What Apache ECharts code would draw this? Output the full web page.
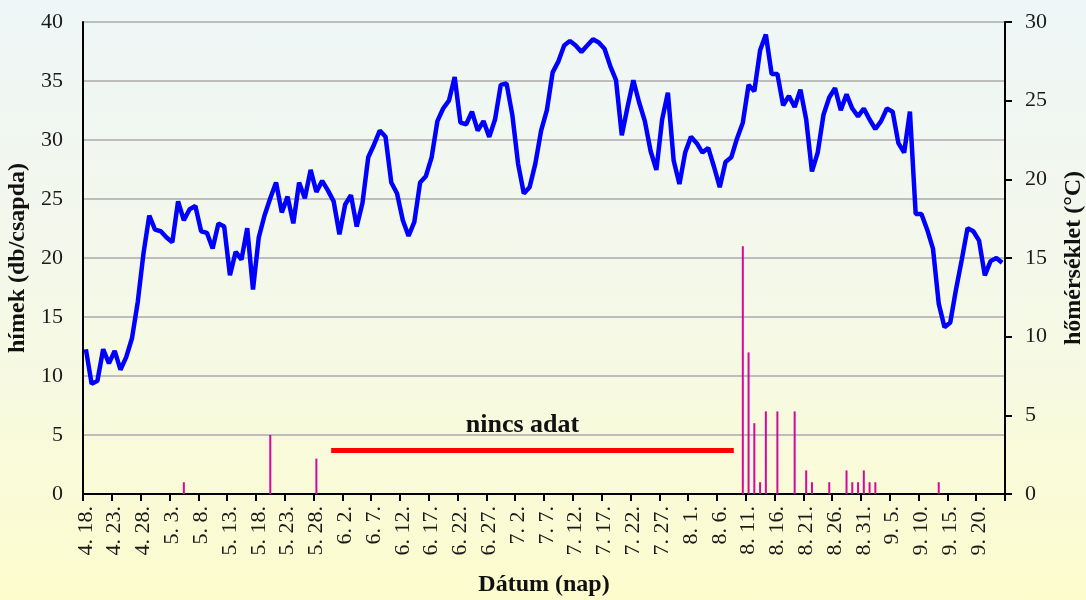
<!DOCTYPE html>
<html>
<head>
<meta charset="utf-8">
<script src="https://cdn.jsdelivr.net/npm/echarts@6/dist/echarts.min.js"></script>
<style>
html,body{margin:0;padding:0;overflow:hidden;}
#chart{width:1086px;height:600px;background:linear-gradient(to bottom,#eef6f7 0%,#f4f8ea 45%,#fcfccd 100%);}
</style>
</head>
<body>
<div id="chart"></div>
<script>
// Category range: daily, 4.18 – 9.24
const startMonth = 4, startDay = 18, dayCount = 160;
const monthLengths = {4: 30, 5: 31, 6: 30, 7: 31, 8: 31, 9: 30};

// Daily mean temperature (°C), right axis
const temperature = [
  9.2, 7.0, 7.2, 9.2, 8.3, 9.1, 7.9, 8.7, 9.9, 12.2,
  15.3, 17.7, 16.8, 16.7, 16.3, 16.0, 18.6, 17.4, 18.1, 18.3,
  16.7, 16.6, 15.6, 17.2, 17.0, 13.9, 15.4, 14.9, 16.9, 13.0,
  16.3, 17.7, 18.8, 19.8, 17.9, 18.9, 17.2, 19.8, 18.8, 20.6,
  19.2, 19.9, 19.3, 18.6, 16.5, 18.4, 19.0, 17.0, 18.5, 21.4,
  22.2, 23.1, 22.7, 19.8, 19.1, 17.4, 16.4, 17.3, 19.8, 20.2,
  21.4, 23.7, 24.5, 25.0, 26.5, 23.6, 23.5, 24.3, 23.1, 23.7,
  22.7, 23.8, 26.0, 26.1, 24.1, 21.0, 19.1, 19.5, 21.0, 23.1,
  24.4, 26.8, 27.5, 28.5, 28.8, 28.5, 28.1, 28.5, 28.9, 28.7,
  28.3, 27.2, 26.3, 22.8, 24.6, 26.3, 24.9, 23.7, 21.8, 20.6,
  23.8, 25.5, 21.2, 19.7, 21.7, 22.7, 22.3, 21.7, 22.0, 20.8,
  19.5, 21.1, 21.4, 22.6, 23.6, 26.0, 25.6, 28.2, 29.2, 26.7,
  26.7, 24.7, 25.3, 24.6, 25.7, 23.8, 20.5, 21.7, 24.1, 25.2,
  25.8, 24.4, 25.4, 24.5, 24.0, 24.5, 23.8, 23.2, 23.7, 24.5,
  24.3, 22.3, 21.7, 24.3, 17.8, 17.8, 16.8, 15.6, 12.1, 10.6,
  10.9, 13.0, 14.9, 16.9, 16.7, 16.1, 13.9, 14.8, 15.0, 14.7
];

// Male catches per trap (left axis)
const catchDates = ['5. 5.', '5. 20.', '5. 28.', '8. 10.', '8. 11.', '8. 12.', '8. 13.', '8. 14.', '8. 16.', '8. 19.',
                    '8. 21.', '8. 22.', '8. 25.', '8. 28.', '8. 29.', '8. 30.', '8. 31.', '9. 1.', '9. 2.', '9. 13.'];
const catchValues = [1, 5, 3, 21, 12, 6, 1, 7, 7, 7,
                     2, 1, 1, 2, 1, 1, 2, 1, 1, 1];

// "no data" period
const noDataStart = '5. 31.';
const noDataEnd = '8. 8.';
const noDataLevel = 3.7;
const noDataText = 'nincs adat';

// Axis ticks
const leftTicks = {min: 0, max: 40, interval: 5};
const rightTicks = {min: 0, max: 30, interval: 5};

const leftName = 'hímek (db/csapda)';
const rightName = 'hőmérséklet (°C)';
const bottomName = 'Dátum (nap)';

// build date categories
const dates = [];
{
  let m = startMonth, d = startDay;
  for (let i = 0; i < dayCount; i++) {
    dates.push(m + '. ' + d + '.');
    d++;
    if (d > monthLengths[m]) { d = 1; m++; }
  }
}

const serif = 'Liberation Serif, Times New Roman, serif';
const chart = echarts.init(document.getElementById('chart'), null, {renderer: 'canvas'});
chart.setOption({
  backgroundColor: 'transparent',
  animation: false,
  grid: {left: 83, right: 81, top: 22, bottom: 106, containLabel: false, outerBoundsMode: 'none'},
  xAxis: {
    type: 'category',
    data: dates,
    boundaryGap: true,
    name: bottomName,
    nameLocation: 'middle',
    nameGap: 79,
    nameTextStyle: {fontFamily: serif, fontSize: 24, fontWeight: 'bold', color: '#111'},
    axisLine: {show: true, lineStyle: {color: '#000', width: 2}},
    axisTick: {show: true, interval: 4, length: 7, lineStyle: {color: '#000', width: 2}},
    axisLabel: {interval: 4, rotate: 90, margin: 12, fontFamily: serif, fontSize: 22, color: '#1a1a1a'},
    splitLine: {show: false}
  },
  yAxis: [
    {
      type: 'value',
      min: leftTicks.min, max: leftTicks.max, interval: leftTicks.interval,
      name: leftName,
      nameLocation: 'middle',
      nameRotate: 90,
      nameGap: 52,
      nameTextStyle: {fontFamily: serif, fontSize: 24, fontWeight: 'bold', color: '#111'},
      axisLine: {show: true, lineStyle: {color: '#000', width: 2}},
      axisTick: {show: false},
      axisLabel: {margin: 20, fontFamily: serif, fontSize: 22, color: '#1a1a1a'},
      splitLine: {show: true, lineStyle: {color: '#bdbdbd', width: 2}}
    },
    {
      type: 'value',
      position: 'right',
      min: rightTicks.min, max: rightTicks.max, interval: rightTicks.interval,
      name: rightName,
      nameLocation: 'middle',
      nameRotate: 90,
      nameGap: 57,
      nameTextStyle: {fontFamily: serif, fontSize: 24, fontWeight: 'bold', color: '#111'},
      axisLine: {show: true, lineStyle: {color: '#000', width: 2}},
      axisTick: {show: true, length: 7, lineStyle: {color: '#000', width: 2}},
      axisLabel: {margin: 20, fontFamily: serif, fontSize: 22, color: '#1a1a1a'},
      splitLine: {show: false}
    }
  ],
  series: [
    {
      name: 'hímek',
      type: 'bar',
      yAxisIndex: 0,
      barWidth: 2,
      itemStyle: {color: '#d4089c'},
      data: catchDates.map((d, i) => [d, catchValues[i]]),
      z: 2
    },
    {
      name: noDataText,
      type: 'line',
      yAxisIndex: 0,
      data: [],
      z: 3,
      markLine: {
        silent: true,
        symbol: 'none',
        lineStyle: {color: '#ff0000', width: 5, type: 'solid', cap: 'square'},
        label: {
          show: true, position: 'middle', formatter: noDataText, distance: 12, offset: [-10, 0],
          fontFamily: serif, fontSize: 26, fontWeight: 'bold', color: '#111'
        },
        emphasis: {disabled: true},
        data: [[{coord: [noDataStart, noDataLevel]}, {coord: [noDataEnd, noDataLevel]}]]
      }
    },
    {
      name: 'hőmérséklet',
      type: 'line',
      yAxisIndex: 1,
      data: temperature,
      symbol: 'none',
      lineStyle: {color: '#0000ff', width: 4.5},
      itemStyle: {color: '#0000ff'},
      z: 4
    }
  ]
});
</script>
</body>
</html>
